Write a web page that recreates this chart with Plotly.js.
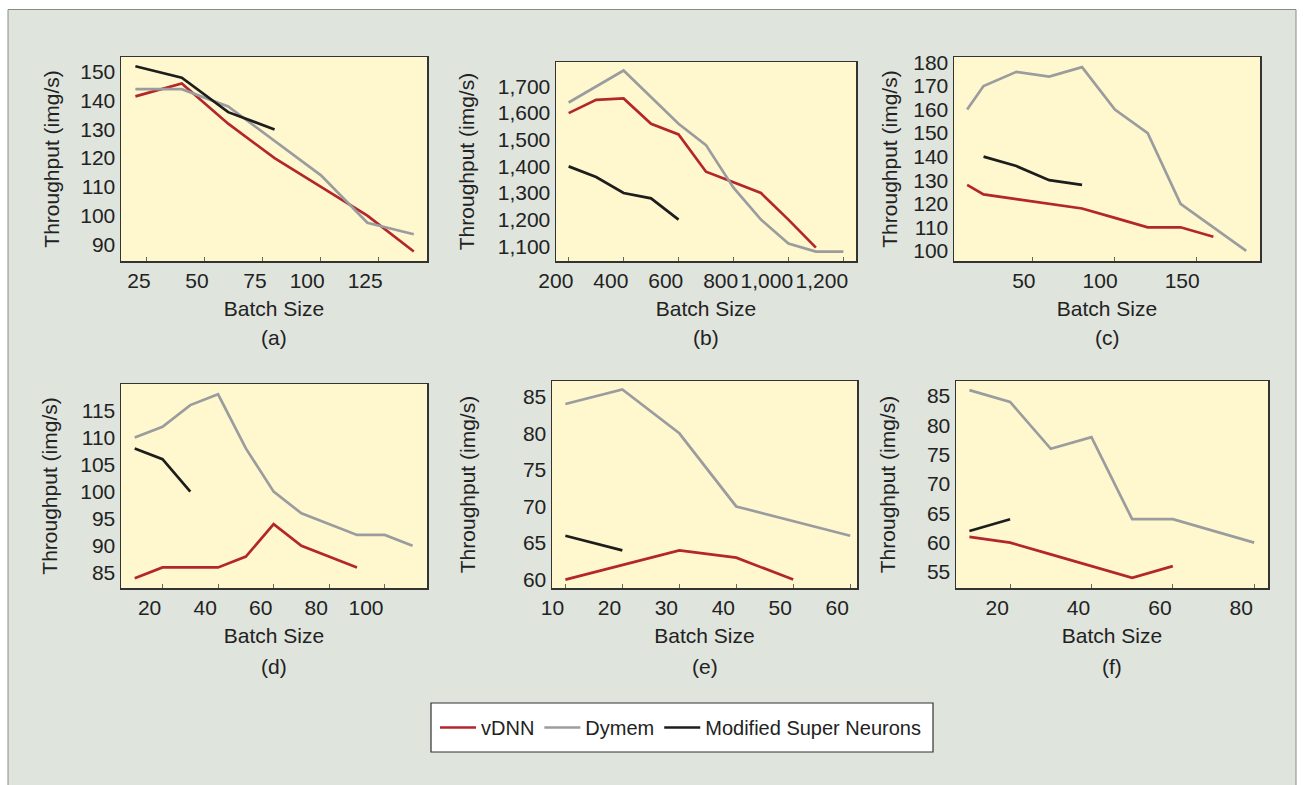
<!DOCTYPE html>
<html><head><meta charset="utf-8">
<script src="https://cdn.plot.ly/plotly-3.0.1.min.js"></script>
<style>html,body{margin:0;padding:0;background:#fff;}#chart{width:1304px;height:785px;}</style>
</head><body><div id="chart"></div>
<script>
// ---------- data ----------
const seriesNames = ['vDNN', 'Dymem', 'Modified Super Neurons'];
const panelLabels = ['(a)', '(b)', '(c)', '(d)', '(e)', '(f)'];
const xTitle = 'Batch Size';
const yTitle = 'Throughput (img/s)';

// (a)
const aVdnnX = [20, 40, 60, 80, 100, 120, 140];
const aVdnnY = [141.5, 146, 132, 120, 110, 100, 87.5];
const aDymemX = [20, 40, 60, 80, 100, 120, 140];
const aDymemY = [144, 144, 138, 126, 114, 97.5, 93.5];
const aMsnX = [20, 40, 60, 80];
const aMsnY = [152, 148, 136, 130];
const aXTicks = [25, 50, 75, 100, 125];
const aYTicks = [90, 100, 110, 120, 130, 140, 150];

// (b)
const bVdnnX = [200, 300, 400, 500, 600, 700, 800, 900, 1000, 1100];
const bVdnnY = [1600, 1650, 1655, 1560, 1520, 1380, 1340, 1300, 1200, 1095];
const bDymemX = [200, 400, 600, 700, 800, 900, 1000, 1100, 1200];
const bDymemY = [1640, 1760, 1560, 1480, 1320, 1200, 1110, 1080, 1080];
const bMsnX = [200, 300, 400, 500, 600];
const bMsnY = [1400, 1360, 1300, 1280, 1200];
const bXTicks = [200, 400, 600, 800, 1000, 1200];
const bYTicks = [1100, 1200, 1300, 1400, 1500, 1600, 1700];

// (c)
const cVdnnX = [10, 20, 40, 60, 80, 100, 120, 140, 160];
const cVdnnY = [128, 124, 122, 120, 118, 114, 110, 110, 106];
const cDymemX = [10, 20, 40, 60, 80, 100, 120, 140, 180];
const cDymemY = [160, 170, 176, 174, 178, 160, 150, 120, 100];
const cMsnX = [20, 40, 60, 80];
const cMsnY = [140, 136, 130, 128];
const cXTicks = [50, 100, 150];
const cYTicks = [100, 110, 120, 130, 140, 150, 160, 170, 180];

// (d)
const dVdnnX = [10, 20, 30, 40, 50, 60, 70, 80, 90];
const dVdnnY = [84, 86, 86, 86, 88, 94, 90, 88, 86];
const dDymemX = [10, 20, 30, 40, 50, 60, 70, 80, 90, 100, 110];
const dDymemY = [110, 112, 116, 118, 108, 100, 96, 94, 92, 92, 90];
const dMsnX = [10, 20, 30];
const dMsnY = [108, 106, 100];
const dXTicks = [20, 40, 60, 80, 100];
const dYTicks = [85, 90, 95, 100, 105, 110, 115];

// (e)
const eVdnnX = [10, 20, 30, 40, 50];
const eVdnnY = [60, 62, 64, 63, 60];
const eDymemX = [10, 20, 30, 40, 60];
const eDymemY = [84, 86, 80, 70, 66];
const eMsnX = [10, 20];
const eMsnY = [66, 64];
const eXTicks = [10, 20, 30, 40, 50, 60];
const eYTicks = [60, 65, 70, 75, 80, 85];

// (f)
const fVdnnX = [10, 20, 30, 40, 50, 60];
const fVdnnY = [61, 60, 58, 56, 54, 56];
const fDymemX = [10, 20, 30, 40, 50, 60, 80];
const fDymemY = [86, 84, 76, 78, 64, 64, 60];
const fMsnX = [10, 20];
const fMsnY = [62, 64];
const fXTicks = [20, 40, 60, 80];
const fYTicks = [55, 60, 65, 70, 75, 80, 85];

// ---------- styling / layout ----------
const W = 1304, H = 785;
const FONT = 'Liberation Sans, Arial, Helvetica, sans-serif';
const TXT = '#222222';
const FS = 21;
const colors = ['#b3262c', '#9b9c9e', '#1d1d1d'];

const panels = [
  {id: '',  series: [[aVdnnX, aVdnnY], [aDymemX, aDymemY], [aMsnX, aMsnY]], xt: aXTicks, yt: aYTicks,
   box: [121, 427, 57, 261], xr: [13.8, 145.7], yr: [84.2, 155.2], ys: 14.5, shift: 5},
  {id: '2', series: [[bVdnnX, bVdnnY], [bDymemX, bDymemY], [bMsnX, bMsnY]], xt: bXTicks, yt: bYTicks,
   box: [556, 856, 62, 261], xr: [154, 1246], yr: [1044.6, 1792], ys: 17, comma: true, shift: 6},
  {id: '3', series: [[cVdnnX, cVdnnY], [cDymemX, cDymemY], [cMsnX, cMsnY]], xt: cXTicks, yt: cYTicks,
   box: [954, 1260, 57, 261], xr: [2.0, 188.4], yr: [95.7, 182.3], ys: 10, shift: 4},
  {id: '4', series: [[dVdnnX, dVdnnY], [dDymemX, dDymemY], [dMsnX, dMsnY]], xt: dXTicks, yt: dYTicks,
   box: [121, 427, 384, 588], xr: [5.06, 115.2], yr: [82.2, 119.9], ys: 16.5, shift: 0},
  {id: '5', series: [[eVdnnX, eVdnnY], [eDymemX, eDymemY], [eMsnX, eMsnY]], xt: eXTicks, yt: eYTicks,
   box: [552, 857, 381, 588], xr: [7.65, 61.2], yr: [58.85, 87.15], ys: 41.5, shift: 0},
  {id: '6', series: [[fVdnnX, fVdnnY], [fDymemX, fDymemY], [fMsnX, fMsnY]], xt: fXTicks, yt: fYTicks,
   box: [956, 1268, 381, 588], xr: [6.7, 83.4], yr: [52.27, 87.56], ys: 25, shift: 0}
];

const traces = [];
const layout = {
  width: W, height: H,
  margin: {l: 0, r: 0, t: 0, b: 0, pad: 0},
  paper_bgcolor: '#dfe4dd',
  plot_bgcolor: '#fff8cf',
  font: {family: FONT, size: FS, color: TXT},
  showlegend: true,
  legend: {
    orientation: 'h', x: 435 / W, xanchor: 'left', y: 1 - 727.5 / H, yanchor: 'middle',
    bgcolor: 'rgba(0,0,0,0)', borderwidth: 0, itemwidth: 36,
    font: {family: FONT, size: 20, color: TXT}
  },
  annotations: [],
  shapes: [
    // outer white margin & frame
    {type: 'rect', xref: 'paper', yref: 'paper', x0: 0, x1: 1, y0: 1 - 9 / H, y1: 1, fillcolor: '#ffffff', line: {width: 0}, layer: 'below'},
    {type: 'rect', xref: 'paper', yref: 'paper', x0: 0, x1: 8 / W, y0: 0, y1: 1, fillcolor: '#ffffff', line: {width: 0}, layer: 'below'},
    {type: 'rect', xref: 'paper', yref: 'paper', x0: 1296 / W, x1: 1, y0: 0, y1: 1, fillcolor: '#ffffff', line: {width: 0}, layer: 'below'},
    {type: 'rect', xref: 'paper', yref: 'paper', x0: 8 / W, x1: 1296 / W, y0: -0.01, y1: 1 - 9.5 / H, line: {color: '#8a8a8a', width: 1}, layer: 'below'},
    // legend box
    {type: 'rect', xref: 'paper', yref: 'paper', x0: 431 / W, x1: 933 / W, y0: 1 - 752 / H, y1: 1 - 703 / H,
     fillcolor: '#ffffff', line: {color: '#333333', width: 1.2}, layer: 'below'}
  ]
};

panels.forEach((p, i) => {
  const xa = 'x' + p.id, ya = 'y' + p.id;
  p.series.forEach((s, k) => {
    traces.push({
      type: 'scatter', mode: 'lines', x: s[0], y: s[1], xaxis: xa, yaxis: ya,
      name: seriesNames[k], legendgroup: seriesNames[k], showlegend: i === 0,
      line: {color: colors[k], width: 2.7}, hoverinfo: 'x+y+name'
    });
  });
  const [l, r, t, b] = p.box;
  layout['xaxis' + p.id] = {
    domain: [l / W, r / W], anchor: ya, range: p.xr, autorange: false,
    tickmode: 'array', tickvals: p.xt, tickformat: p.comma ? ',d' : 'd',
    ticks: 'inside', ticklen: 4, tickwidth: 1, tickcolor: '#666666',
    ticklabelposition: 'outside left', tickangle: 0, ticklabelshift: p.shift,
    showgrid: false, zeroline: false, showline: true, linecolor: '#333333', linewidth: 1.5, mirror: true,
    tickfont: {family: FONT, size: FS, color: TXT},
    title: {text: xTitle, font: {family: FONT, size: FS, color: TXT}, standoff: 10},
    automargin: false, fixedrange: true
  };
  layout['yaxis' + p.id] = {
    domain: [1 - b / H, 1 - t / H], anchor: xa, range: p.yr, autorange: false,
    tickmode: 'array', tickvals: p.yt, tickformat: p.comma ? ',d' : 'd',
    ticks: '', showgrid: false, zeroline: false, showline: true, linecolor: '#333333', linewidth: 1.5, mirror: true,
    tickfont: {family: FONT, size: FS, color: TXT},
    title: {text: yTitle, font: {family: FONT, size: FS, color: TXT}, standoff: p.ys},
    automargin: false, fixedrange: true
  };
  layout.annotations.push({
    text: panelLabels[i], xref: 'paper', yref: 'paper', x: ((l + r) / 2) / W, y: 1 - (t < 200 ? 337 : 666) / H,
    xanchor: 'center', yanchor: 'middle', showarrow: false, font: {family: FONT, size: FS, color: TXT}
  });
});

Plotly.newPlot('chart', traces, layout, {displayModeBar: false, staticPlot: true});
</script></body></html>
